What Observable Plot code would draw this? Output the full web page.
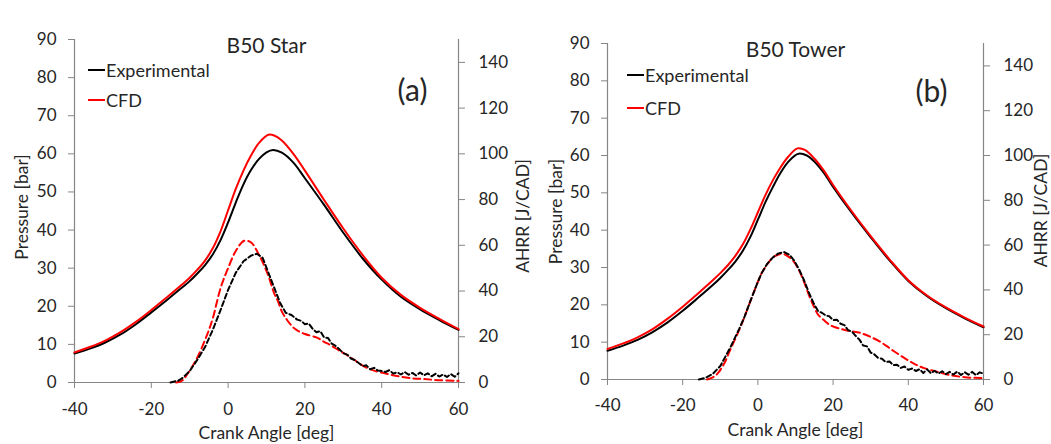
<!DOCTYPE html>
<html><head><meta charset="utf-8">
<script src="https://cdn.jsdelivr.net/npm/d3@7"></script>
<script src="https://cdn.jsdelivr.net/npm/@observablehq/plot@0.6"></script>
<style>
body{margin:0;background:#fff;}
#wrap{position:relative;width:1051px;height:444px;font-family:Lato,sans-serif;color:#262626;overflow:hidden;}
.panel{position:absolute;top:0;}
.leg{position:absolute;font-size:18px;display:flex;align-items:center;white-space:nowrap;line-height:1;transform:translateY(-50%);}
.leg .s{display:inline-block;width:17px;height:2px;margin-right:1px;}
</style></head><body><div id="wrap"></div>
<script>
// ---------- shared ticks ----------
const xTicks = [-40, -20, 0, 20, 40, 60];
const pTicks = [0, 10, 20, 30, 40, 50, 60, 70, 80, 90];
const hTicks = [0, 20, 40, 60, 80, 100, 120, 140];
const seriesNames = ["Experimental", "CFD"];

// ---------- (a) B50 Star ----------  [crank angle, value]
const starPressureExp = [[-40,7.6],[-36,8.9],[-32,10.5],[-28,12.6],[-24,15.3],[-20,18.4],[-16,21.6],[-12,24.9],[-10,26.6],[-8,28.6],[-6,30.8],[-4,33.6],[-2,37.3],[0,42],[2,47.2],[4,52],[6,55.8],[8,58.6],[10,60.4],[11.7,61],[14,60.3],[17,57.7],[20,53.6],[25,46.6],[30,39.3],[35,32.6],[40,27],[45,22.5],[50,19.2],[55,16.4],[60,13.8]];
const starPressureCfd = [[-40,7.9],[-36,9.3],[-32,11],[-28,13.2],[-24,15.9],[-20,19],[-16,22.3],[-12,25.7],[-10,27.5],[-8,29.6],[-6,32],[-4,35.2],[-2,39.6],[0,45.2],[2,50.8],[4,55.6],[6,59.6],[8,62.8],[10.5,65],[12,64.8],[14,63.5],[17,60],[20,55.6],[25,47.9],[30,40.4],[35,33.5],[40,27.5],[45,23],[50,19.6],[55,16.7],[60,14]];
const starAhrrExp = [[-15,0],[-13,0.8],[-12,1.8],[-10,5],[-8,10],[-6,15.5],[-4,23],[-2,31.5],[0,40.5],[2,48],[4,53],[6,55.5],[7.5,56.3],[9,54.5],[10.5,48],[12,41.5],[13.5,35],[15,30.5],[16.5,29.5],[18,27.5],[19,27],[20,25.5],[21,25.8],[22,23.5],[23,22],[24,22.5],[25,19.7],[26,19.5],[27,17],[28,16],[29,14.5],[30,12.8],[31,12.2],[32,10.5],[33,9.8],[34,8.5],[35,7.2],[36,7.5],[37,5.8],[38,6.4],[39,5.2],[40,5],[41,4.6],[42,5.4],[43,3.9],[44,4.5],[45,3.5],[46,4.6],[47,3.4],[48,4.2],[49,3],[50,4.4],[51,3.1],[52,4],[53,2.7],[54,3.8],[55,2.6],[56,3.5],[57,2.4],[58,3.7],[59,2.5],[60,4]];
const starAhrrCfd = [[-13.5,0],[-12,0.8],[-10.6,3.7],[-8,11],[-5.4,21.2],[-4,28],[-1.9,41.6],[0,50],[2,57.5],[4.2,62],[6,61.2],[8,56],[10.3,47.5],[12,39],[13,35.5],[14,31],[15.5,27],[17,24],[18.1,22.7],[20,21.2],[23,19.7],[25,17.8],[27,16],[29.4,13.5],[31,12],[33.8,8.8],[36,6.5],[38,5.2],[41.6,3.7],[45,2.5],[48,1.8],[51,1.5],[55,1],[60,0.7]];

// ---------- (b) B50 Tower ----------
const towerPressureExp = [[-40,7.7],[-36,9],[-32,10.6],[-28,12.7],[-24,15.3],[-20,18.4],[-16,21.8],[-12,25.3],[-10,27.2],[-8,29.3],[-6,31.6],[-4,34.5],[-2,38.2],[0,42.8],[2,47.5],[4,51.6],[6,55.3],[8,58.2],[10,60.1],[10.9,60.5],[13,60],[15,58.4],[17.5,55.4],[20,51.6],[25,44.6],[30,38.1],[35,31.9],[40,26.4],[45,22.3],[50,19.1],[55,16.4],[60,14]];
const towerPressureCfd = [[-40,8.2],[-36,9.6],[-32,11.3],[-28,13.5],[-24,16.3],[-20,19.5],[-16,23],[-12,26.6],[-10,28.5],[-8,30.6],[-6,33.1],[-4,36.2],[-2,40.2],[0,44.8],[2,49.4],[4,53.4],[6,56.8],[8,59.6],[10.5,61.9],[12.5,61.5],[15,59.2],[17.5,56],[20,52.1],[25,45],[30,38.4],[35,32.2],[40,26.6],[45,22.5],[50,19.3],[55,16.6],[60,14.2]];
const towerAhrrExp = [[-15.7,0],[-14,0.7],[-12,2.5],[-10,6],[-7.3,14.4],[-5,22.5],[-3.6,27.8],[-2,35],[-0.2,42.8],[1,47.5],[2.5,51.7],[4,54.5],[5.5,56.3],[7,56.9],[8.5,55.5],[9.6,53.2],[11,49],[12.3,44.2],[13.5,39],[14.9,33.8],[16,30.5],[17,29.8],[18,28.6],[19,28.2],[20,26.5],[21,26.7],[22,24.9],[23,24.3],[24,22],[25,21.4],[26,19.5],[27,17.8],[28,15.2],[29,14.8],[30,12],[31,11.2],[32,9.6],[33,9.3],[34,7.8],[35,8],[36,6.4],[37,6.6],[38,5.2],[39,5.8],[40,4.3],[41,4.9],[42,3.8],[43,4.6],[44,2.9],[45,4.5],[46,2.8],[47,3.9],[48,2.6],[49,3.7],[50,2.4],[51,3.4],[52,2.2],[53,3.5],[54,2],[55,3.3],[56,2.1],[57,3.4],[58,1.9],[59,3.2],[60,2.6]];
const towerAhrrCfd = [[-13.5,0],[-12,1],[-10.8,2.5],[-9,7],[-7.3,13.5],[-5,22],[-3.6,27.8],[-2,35],[-0.2,42.8],[1,47.5],[2.5,51.5],[4,54.5],[5.5,55.8],[6.5,56.2],[8,55],[9.6,52.5],[11,48.5],[12.3,43.5],[13.5,38],[14.9,32.5],[16,29],[17.6,26.4],[19.4,24.1],[22,22.6],[24,21.8],[26.5,21.1],[28.3,20.2],[30,19],[32.7,16.7],[35,14],[37.2,11.5],[39.5,9],[41.6,7],[44,5.2],[47.9,3.3],[51,2],[55,1],[60,0.6]];

const K = 90 / 150; // AHRR (0..150) mapped onto the pressure scale (0..90)
const AX = "#868686";

function panel(cfg) {
  const m = cfg.m;
  const T = {lineAnchor: "middle", textAnchor: "middle"};
  return Plot.plot({
    width: cfg.width, height: 444,
    marginLeft: m[0], marginRight: m[1], marginTop: m[2], marginBottom: m[3],
    x: {domain: [-40, 60]},
    y: {domain: [0, 90]},
    style: {fontFamily: "Lato, sans-serif", fontSize: "17px", color: "#262626", background: "transparent", overflow: "visible"},
    marks: [
      Plot.ruleX([-40, 60], {stroke: AX, strokeWidth: 1.2}),
      Plot.ruleY([0], {stroke: AX, strokeWidth: 1.2}),
      Plot.axisX({ticks: xTicks, tickFormat: d => String(d), tickSize: 6, tickPadding: cfg.xpad, stroke: AX, label: null}),
      Plot.axisY({anchor: "left", ticks: pTicks, tickFormat: d => String(d), tickSize: 6, tickPadding: 12, stroke: AX, label: null}),
      Plot.axisY({anchor: "right", ticks: hTicks.map(v => v * K), tickFormat: d => String(Math.round(d / K)), tickSize: 6, tickPadding: 14, stroke: AX, label: null}),
      Plot.line(cfg.pExp, {x: d => d[0], y: d => d[1], stroke: "#000", strokeWidth: 2, curve: "catmull-rom"}),
      Plot.line(cfg.pCfd, {x: d => d[0], y: d => d[1], stroke: "#f00", strokeWidth: 2, curve: "catmull-rom"}),
      Plot.line(cfg.hCfd, {x: d => d[0], y: d => d[1] * K, stroke: "#f00", strokeWidth: 2, strokeDasharray: "7,4", curve: "catmull-rom"}),
      Plot.line(cfg.hExp, {x: d => d[0], y: d => d[1] * K, stroke: "#000", strokeWidth: 2, strokeDasharray: "5,3"}),
      Plot.text([cfg.title], {...T, frameAnchor: "top", dy: cfg.tdy, fontSize: 21}),
      Plot.text([cfg.tag], {...T, frameAnchor: "top-left", dx: cfg.tagPos[0], dy: cfg.tagPos[1], fontSize: 30}),
      Plot.text(["Pressure [bar]"], {...T, frameAnchor: "left", dx: cfg.pl[0], dy: cfg.pl[1], rotate: -90, fontSize: 17.5}),
      Plot.text(["AHRR [J/CAD]"], {...T, frameAnchor: "right", dx: cfg.hl[0], dy: cfg.hl[1], rotate: -90, fontSize: 17.5}),
      Plot.text(["Crank Angle [deg]"], {...T, frameAnchor: "bottom", dy: cfg.xl, fontSize: 17.5})
    ]
  });
}

const wrap = document.getElementById("wrap");
function place(node, left, width) {
  const d = document.createElement("div");
  d.className = "panel"; d.style.left = left + "px"; d.style.width = width + "px";
  d.appendChild(node); wrap.appendChild(d);
}
function legend(x, ys) {
  seriesNames.forEach((name, i) => {
    const d = document.createElement("div");
    d.className = "leg"; d.style.left = x + "px"; d.style.top = ys[i] + "px";
    const s = document.createElement("span");
    s.className = "s"; s.style.background = i === 0 ? "#000" : "#f00";
    d.appendChild(s); d.appendChild(document.createTextNode(name));
    wrap.appendChild(d);
  });
}

place(panel({width: 530, m: [74, 72, 39, 62], xpad: 14, title: "B50 Star", tdy: 7, tag: "(a)", tagPos: [338, 52],
  pl: [-52, -4], hl: [65, 5], xl: 51,
  pExp: starPressureExp, pCfd: starPressureCfd, hExp: starAhrrExp, hCfd: starAhrrCfd}), 0, 530);
place(panel({width: 521, m: [77, 68, 43, 65], xpad: 13, title: "B50 Tower", tdy: 7, tag: "(b)", tagPos: [324, 49],
  pl: [-51, 0], hl: [58, -1], xl: 51,
  pExp: towerPressureExp, pCfd: towerPressureCfd, hExp: towerAhrrExp, hCfd: towerAhrrCfd}), 530, 521);

legend(88, [70, 100]);
legend(627, [75, 108]);
</script></body></html>
